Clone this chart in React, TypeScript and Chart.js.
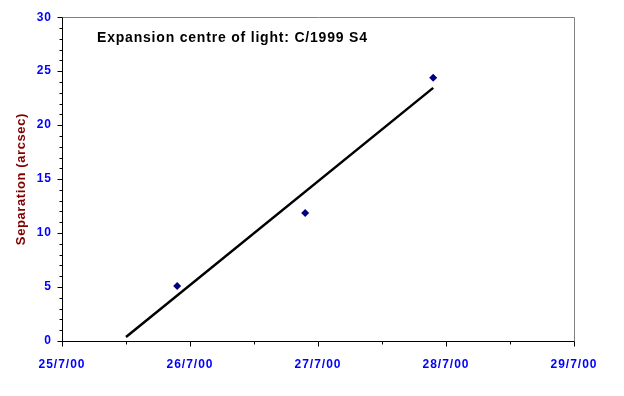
import React, { useEffect, useRef } from 'react';
import { Chart, registerables } from 'chart.js';

Chart.register(...registerables);

// Days since 25/7/00 (x axis) and tick labels
const tickLabels = ['25/7/00', '26/7/00', '27/7/00', '28/7/00', '29/7/00'];
const obsDays = [0.9, 1.9, 2.9];
const separation = [5.1, 11.85, 24.4];
const fitDays = [0.5, 2.9];
const fitSeparation = [0.37, 23.45];
const chartTitle = 'Expansion centre of light: C/1999 S4';
const yTitle = 'Separation (arcsec)';

const FONT = '"Liberation Sans", Arial, sans-serif';

const framePlugin = {
  id: 'frame',
  beforeDraw(chart: any) {
    chart.ctx.letterSpacing = '1px';
  },
  afterDraw(chart: any) {
    const ctx = chart.ctx;
    const { left, right, top, bottom } = chart.chartArea;
    const xs = chart.scales.x;
    const ys = chart.scales.y;
    ctx.save();
    ctx.lineWidth = 1;
    // grey top/right border
    ctx.strokeStyle = '#808080';
    ctx.beginPath();
    ctx.moveTo(Math.round(left) + 0.5, Math.round(top) + 0.5);
    ctx.lineTo(Math.round(right) + 0.5, Math.round(top) + 0.5);
    ctx.lineTo(Math.round(right) + 0.5, Math.round(bottom) + 0.5);
    ctx.stroke();
    // black axes
    ctx.strokeStyle = '#000000';
    ctx.beginPath();
    ctx.moveTo(Math.round(left) + 0.5, Math.round(top) + 0.5);
    ctx.lineTo(Math.round(left) + 0.5, Math.round(bottom) + 0.5);
    ctx.lineTo(Math.round(right) + 0.5, Math.round(bottom) + 0.5);
    ctx.stroke();
    // y ticks
    ctx.beginPath();
    for (let v = 0; v <= 30; v += 1) {
      const y = Math.round(ys.getPixelForValue(v)) + 0.5;
      const len = v % 5 === 0 ? 5 : 3;
      ctx.moveTo(Math.round(left) + 0.5 - len, y);
      ctx.lineTo(Math.round(left) + 0.5, y);
    }
    // x ticks
    for (let d = 0; d <= 4; d += 0.5) {
      const x = Math.round(xs.getPixelForValue(d)) + 0.5;
      const len = Number.isInteger(d) ? 5 : 3;
      ctx.moveTo(x, Math.round(bottom) + 0.5);
      ctx.lineTo(x, Math.round(bottom) + 0.5 + len);
    }
    ctx.stroke();
    // chart title
    ctx.letterSpacing = '0.8px';
    ctx.fillStyle = '#000000';
    ctx.font = `bold 14px ${FONT}`;
    ctx.textAlign = 'left';
    ctx.textBaseline = 'middle';
    ctx.fillText(chartTitle, left + 35, 38);
    // y title
    ctx.letterSpacing = '0.6px';
    ctx.fillStyle = '#800000';
    ctx.font = `bold 13px ${FONT}`;
    ctx.translate(21, (top + bottom) / 2);
    ctx.rotate(-Math.PI / 2);
    ctx.textAlign = 'center';
    ctx.fillText(yTitle, 0, 0);
    ctx.restore();
  },
};

export default function App() {
  const ref = useRef<HTMLCanvasElement>(null);
  useEffect(() => {
    if (!ref.current) return;
    const chart = new Chart(ref.current, {
      type: 'scatter',
      data: {
        datasets: [
          {
            type: 'line',
            label: 'fit',
            data: fitDays.map((d, i) => ({ x: d, y: fitSeparation[i] })),
            borderColor: '#000000',
            borderWidth: 2.5,
            pointRadius: 0,
            fill: false,
          } as any,
          {
            label: 'Separation',
            data: obsDays.map((d, i) => ({ x: d, y: separation[i] })),
            pointStyle: 'rectRot',
            pointRadius: 4,
            backgroundColor: '#000080',
            borderColor: '#000080',
            borderWidth: 0,
          },
        ],
      },
      options: {
        animation: false,
        responsive: true,
        maintainAspectRatio: false,
        layout: { padding: { top: 16, right: 50, left: 0, bottom: 0 } },
        plugins: { legend: { display: false }, tooltip: { enabled: false }, title: { display: false } },
        scales: {
          x: {
            type: 'linear',
            min: 0,
            max: 4,
            afterFit: (s: any) => { s.height = 55; },
            afterBuildTicks: (s: any) => { s.ticks = [0, 1, 2, 3, 4].map((v) => ({ value: v })); },
            grid: { display: false, drawTicks: false, tickLength: 0 },
            border: { display: false },
            ticks: {
              color: '#0000FF',
              font: { family: FONT, size: 12, weight: 'bold' },
              padding: 16,
              maxRotation: 0,
              callback: (v: any) => tickLabels[Math.round(Number(v))] ?? '',
            },
          },
          y: {
            min: 0,
            max: 30,
            afterFit: (s: any) => { s.width = 62; },
            grid: { display: false, drawTicks: false, tickLength: 0 },
            border: { display: false },
            ticks: {
              stepSize: 5,
              color: '#0000FF',
              font: { family: FONT, size: 12, weight: 'bold' },
              padding: 10,
            },
          },
        },
      },
      plugins: [framePlugin],
    });
    return () => chart.destroy();
  }, []);
  return (
    <div style={{ position: 'fixed', left: 0, top: 0, width: 624, height: 396, background: '#fff' }}>
      <canvas ref={ref} />
    </div>
  );
}
